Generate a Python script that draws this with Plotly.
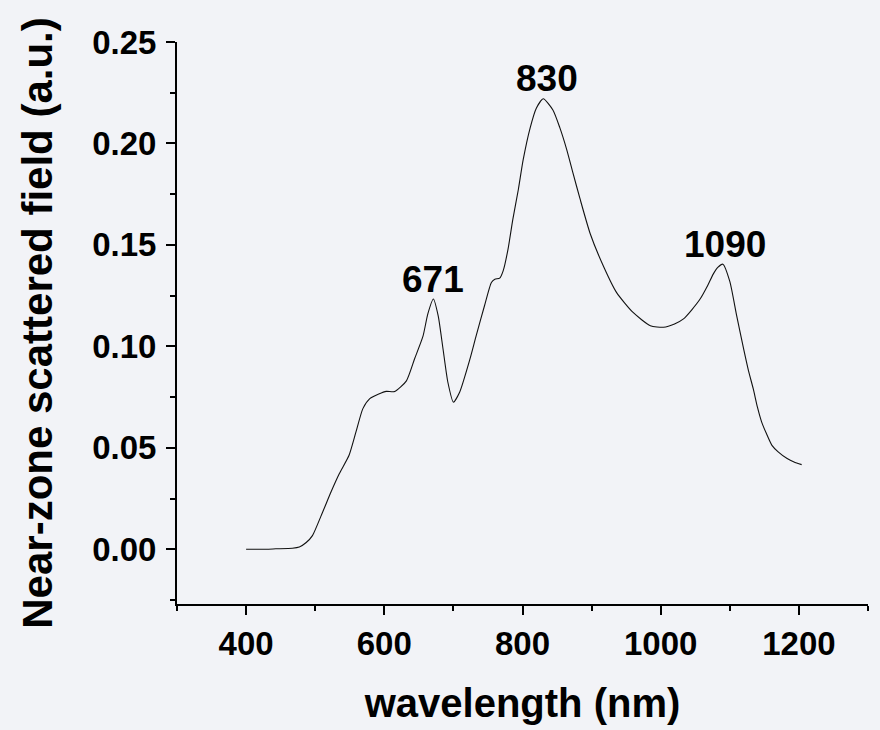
import plotly.graph_objects as go

# Near-zone scattered field spectrum
wavelength_nm = [400, 429, 443, 467, 477, 487, 496, 511, 523, 535, 549, 559, 569, 579,
                 592, 603, 615, 632, 644, 656, 663, 671, 678, 685, 692, 700, 709, 724,
                 733, 745, 755, 760, 767, 772, 779, 786, 794, 801, 811, 820, 830, 844,
                 854, 864, 873, 883, 898, 917, 936, 960, 985, 1004, 1020, 1033, 1045,
                 1057, 1068, 1076, 1083, 1090, 1100, 1110, 1120, 1127, 1134, 1140,
                 1146, 1153, 1161, 1170, 1183, 1193, 1204]
field_au = [0.0000, 0.0000, 0.0002, 0.0005, 0.0011, 0.0033, 0.0067, 0.0185, 0.0283,
            0.0373, 0.0463, 0.0578, 0.0693, 0.0742, 0.0765, 0.0778, 0.0777, 0.0830,
            0.0940, 0.1050, 0.1160, 0.1233, 0.1150, 0.0987, 0.0823, 0.0725, 0.0774,
            0.0938, 0.1053, 0.1200, 0.1315, 0.1331, 0.1336, 0.1372, 0.1478, 0.1626,
            0.1773, 0.1920, 0.2076, 0.2174, 0.2220, 0.2165, 0.2078, 0.1970, 0.1855,
            0.1730, 0.1555, 0.1396, 0.1266, 0.1167, 0.1102, 0.1094, 0.1110, 0.1135,
            0.1180, 0.1233, 0.1300, 0.1356, 0.1390, 0.1405, 0.1320, 0.1150,
            0.0987, 0.0880, 0.0790, 0.0700, 0.0628, 0.0570, 0.0512, 0.0480, 0.0447,
            0.0430, 0.0417]

# Labelled resonance peaks
peak_nm = [671, 830, 1090]
peak_xshift = [0, 4, 2]

x_ticks = [400, 600, 800, 1000, 1200]
x_tick_labels = ["400", "600", "800", "1000", "1200"]
y_ticks = [0.00, 0.05, 0.10, 0.15, 0.20, 0.25]
y_tick_labels = ["0.00", "0.05", "0.10", "0.15", "0.20", "0.25"]

FONT = "Liberation Sans, Arial, sans-serif"
BG = "#f2f3f7"

fig = go.Figure()
fig.add_trace(go.Scatter(
    x=wavelength_nm, y=field_au, mode="lines",
    line=dict(color="#111111", width=1.1, shape="spline", smoothing=0.6),
    showlegend=False, hoverinfo="x+y",
))

for nm, dx in zip(peak_nm, peak_xshift):
    i = wavelength_nm.index(nm)
    fig.add_annotation(
        x=nm, y=field_au[i], text=f"<b>{nm}</b>", showarrow=False,
        xanchor="center", yanchor="middle", xshift=dx, yshift=20,
        font=dict(family=FONT, size=37, color="black"),
    )

axis_common = dict(
    showgrid=False, zeroline=False, showline=True, linecolor="black", linewidth=2,
    ticks="outside", ticklen=9, tickwidth=2, tickcolor="black",
    tickfont=dict(family=FONT, size=33, color="black", weight="bold"),
    mirror=False,
)

fig.update_xaxes(
    range=[300, 1300], tickmode="array", tickvals=x_ticks, ticktext=x_tick_labels,
    minor=dict(tickmode="linear", tick0=300, dtick=100, ticks="outside", ticklen=5,
               tickwidth=2, tickcolor="black"),
    title=dict(text="wavelength (nm)", standoff=28,
               font=dict(family=FONT, size=40, color="black", weight="bold")),
    ticklabelstandoff=0,
    **axis_common,
)
fig.update_yaxes(
    range=[-0.027, 0.25], tickmode="array", tickvals=y_ticks, ticktext=y_tick_labels,
    minor=dict(tickmode="linear", tick0=0, dtick=0.025, ticks="outside", ticklen=5,
               tickwidth=2, tickcolor="black"),
    title=dict(text="Near-zone scattered field (a.u.)", standoff=26,
               font=dict(family=FONT, size=42, color="black", weight="bold")),
    ticklabelstandoff=3,
    **axis_common,
)

fig.update_layout(
    width=880, height=730,
    margin=dict(l=177, r=12, t=42, b=126, autoexpand=False),
    paper_bgcolor=BG, plot_bgcolor=BG,
    showlegend=False,
)

fig.write_html("out.html")
